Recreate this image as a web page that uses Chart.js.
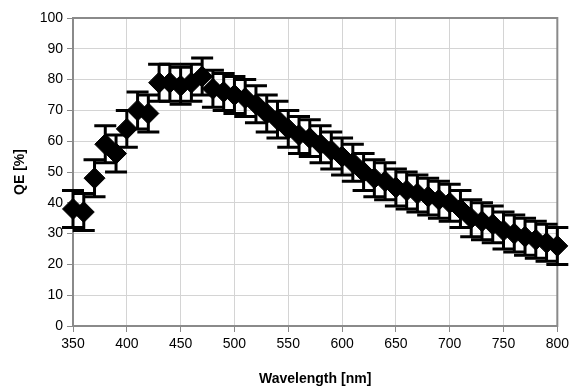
<!DOCTYPE html>
<html>
<head>
<meta charset="utf-8">
<script src="https://cdn.jsdelivr.net/npm/chart.js@4/dist/chart.umd.min.js"></script>
<style>
  html, body { margin: 0; padding: 0; background: #fff; }
  #wrap { width: 573px; height: 392px; }
</style>
</head>
<body>
<div id="wrap"><canvas id="qeChart"></canvas></div>
<script>
const wavelengths = [350, 360, 370, 380, 390, 400, 410, 420, 430, 440, 450, 460, 470, 480, 490,
  500, 510, 520, 530, 540, 550, 560, 570, 580, 590, 600, 610, 620, 630, 640,
  650, 660, 670, 680, 690, 700, 710, 720, 730, 740, 750, 760, 770, 780, 790, 800];
const qeValues = [38, 37, 48, 59, 56, 64, 70, 69, 79, 79, 78, 79, 81, 77, 76,
  75, 74, 72, 69, 67, 64, 62, 61, 59, 57, 55, 53, 50, 48, 47,
  45, 44, 43, 42, 41, 40, 38, 35, 34, 33, 31, 30, 29, 28, 27, 26];
const qeError = [6, 6, 6, 6, 6, 6, 6, 6, 6, 6, 6, 6, 6, 6, 6,
  6, 6, 6, 6, 6, 6, 6, 6, 6, 6, 6, 6, 6, 6, 6,
  6, 6, 6, 6, 6, 6, 6, 6, 6, 6, 6, 6, 6, 6, 6, 6];
const xTicks = [350, 400, 450, 500, 550, 600, 650, 700, 750, 800];
const yTicks = [0, 10, 20, 30, 40, 50, 60, 70, 80, 90, 100];

const points = wavelengths.map((w, i) => ({x: w, y: qeValues[i]}));

// error bars with caps, drawn from the scales
const errorBars = {
  id: 'errorBars',
  afterDatasetsDraw(chart) {
    const {ctx, scales: {x, y}} = chart;
    ctx.save();
    ctx.strokeStyle = '#000';
    ctx.lineWidth = 3;
    points.forEach((p, i) => {
      const px = x.getPixelForValue(p.x);
      const top = y.getPixelForValue(p.y + qeError[i]);
      const bot = y.getPixelForValue(p.y - qeError[i]);
      ctx.beginPath();
      ctx.moveTo(px, top);
      ctx.lineTo(px, bot);
      ctx.moveTo(px - 11, top);
      ctx.lineTo(px + 11, top);
      ctx.moveTo(px - 11, bot);
      ctx.lineTo(px + 11, bot);
      ctx.stroke();
    });
    ctx.restore();
  }
};

// frame round the plot area
const plotFrame = {
  id: 'plotFrame',
  beforeDatasetsDraw(chart) {
    const {ctx, chartArea: a} = chart;
    ctx.save();
    ctx.strokeStyle = '#8a8a8a';
    ctx.lineWidth = 2;
    ctx.strokeRect(a.left, a.top, a.right - a.left, a.bottom - a.top);
    ctx.restore();
  }
};

const tickFont = {family: 'Liberation Sans', size: 14};

new Chart(document.getElementById('qeChart'), {
  type: 'scatter',
  data: {
    datasets: [{
      label: 'QE',
      data: points,
      clip: false,
      pointStyle: 'rectRot',
      pointRadius: 10.5,
      pointHoverRadius: 10.5,
      backgroundColor: '#000',
      borderColor: '#000',
      borderWidth: 1
    }]
  },
  options: {
    responsive: true,
    maintainAspectRatio: false,
    animation: false,
    layout: {padding: {left: 8, right: 15, top: 18, bottom: 0}},
    plugins: {
      legend: {display: false},
      tooltip: {enabled: false}
    },
    scales: {
      x: {
        type: 'linear',
        min: 350,
        max: 800,
        afterBuildTicks: (s) => { s.ticks = xTicks.map(v => ({value: v})); },
        afterFit: (s) => { s.height = 66; },
        grid: {color: '#d4d4d4', tickColor: '#8a8a8a', tickLength: 6, lineWidth: 1},
        border: {display: false},
        ticks: {color: '#000', font: tickFont, padding: 4, maxRotation: 0},
        title: {
          display: true,
          text: 'Wavelength [nm]',
          color: '#000',
          font: {family: 'Liberation Sans', size: 14, weight: 'bold'},
          padding: {top: 10}
        }
      },
      y: {
        min: 0,
        max: 100,
        afterBuildTicks: (s) => { s.ticks = yTicks.map(v => ({value: v})); },
        afterFit: (s) => { s.width = 65; },
        grid: {color: '#d4d4d4', tickColor: '#8a8a8a', tickLength: 6, lineWidth: 1},
        border: {display: false},
        ticks: {color: '#000', font: tickFont, padding: 4},
        title: {
          display: true,
          text: 'QE [%]',
          color: '#000',
          font: {family: 'Liberation Sans', size: 14, weight: 'bold'},
          padding: {bottom: 6}
        }
      }
    }
  },
  plugins: [errorBars, plotFrame]
});
</script>
</body>
</html>
